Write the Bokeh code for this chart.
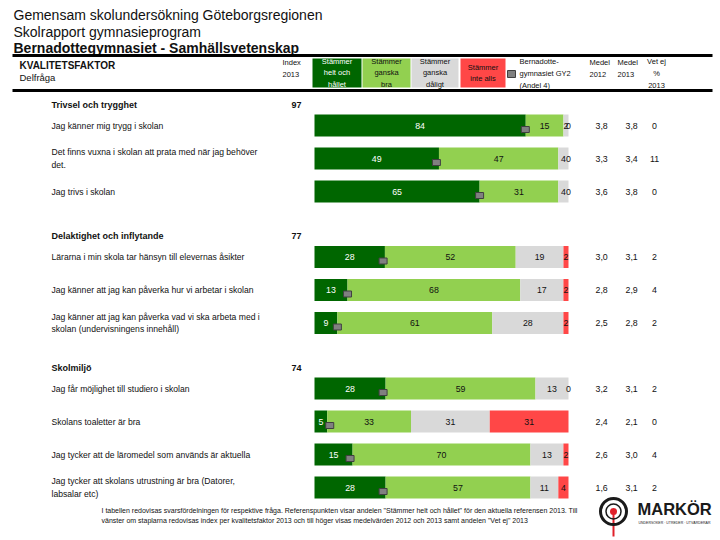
from bokeh.plotting import figure
from bokeh.models import Range1d, ColumnDataSource
from bokeh.core.properties import value
from bokeh.embed import file_html
from bokeh.resources import INLINE

FONT = value("Liberation Sans")

# ---------------- data ----------------
title_lines = ["Gemensam skolundersökning Göteborgsregionen", "Skolrapport gymnasieprogram"]
subtitle = "Bernadottegymnasiet - Samhällsvetenskap"

groups = ["Trivsel och trygghet", "Delaktighet och inflytande", "Skolmiljö"]
group_index = [97, 77, 74]

questions = [
    "Jag känner mig trygg i skolan",
    "Det finns vuxna i skolan att prata med när jag behöver\ndet.",
    "Jag trivs i skolan",
    "Lärarna i min skola tar hänsyn till elevernas åsikter",
    "Jag känner att jag kan påverka hur vi arbetar i skolan",
    "Jag känner att jag kan påverka vad vi ska arbeta med i\nskolan (undervisningens innehåll)",
    "Jag får möjlighet till studiero i skolan",
    "Skolans toaletter är bra",
    "Jag tycker att de läromedel som används är aktuella",
    "Jag tycker att skolans utrustning är bra (Datorer,\nlabsalar etc)",
]
question_group = [0, 0, 0, 1, 1, 1, 2, 2, 2, 2]

helt = [84, 49, 65, 28, 13, 9, 28, 5, 15, 28]
ganska_bra = [15, 47, 31, 52, 68, 61, 59, 33, 70, 57]
ganska_daligt = [2, 4, 4, 19, 17, 28, 13, 31, 13, 11]
inte_alls = [0, 0, 0, 2, 2, 2, 0, 31, 2, 4]
reference = [83, 48, 65, 27, 13, 9, 27, 6, 14, 27]

medel_2012 = [3.8, 3.3, 3.6, 3.0, 2.8, 2.5, 3.2, 2.4, 2.6, 1.6]
medel_2013 = [3.8, 3.4, 3.8, 3.1, 2.9, 2.8, 3.1, 2.1, 3.0, 3.1]
vet_ej = [0, 11, 0, 2, 4, 2, 2, 0, 4, 2]

legend_labels = ["Stämmer\nhelt och\nhållet", "Stämmer\nganska\nbra",
                 "Stämmer\nganska\ndåligt", "Stämmer\ninte alls"]
ref_label = "Bernadotte-\ngymnasiet GY2\n(Andel 4)"
footnote = ("I tabellen redovisas svarsfördelningen för respektive fråga. Referenspunkten visar andelen "
            "\"Stämmer helt och hållet\" för den aktuella referensen 2013. Till\n"
            "vänster om staplarna redovisas index per kvalitetsfaktor 2013 och till höger visas "
            "medelvärden 2012 och 2013 samt andelen \"Vet ej\" 2013")

# ---------------- style ----------------
COLORS = ["#006600", "#92D050", "#D9D9D9", "#FF4747"]
TEXT_COLORS = ["white", "#111111", "#111111", "#111111"]
W, H = 720, 540
X0, SC = 314.0, 2.54  # pixel position of 0 %, pixels per %

p = figure(width=W, height=H, x_range=Range1d(0, W), y_range=Range1d(H, 0),
           x_axis_type=None, y_axis_type=None, output_backend="svg",
           toolbar_location=None, min_border=0, outline_line_color=None,
           background_fill_color="white", border_fill_color="white")
p.extra_x_ranges = {"pct": Range1d(-X0 / SC, (W - X0) / SC)}
p.grid.visible = False


def txt(x, y, text, size, bold=False, align="left", color="#111111", baseline="middle",
        lh=1.2, rng="default"):
    p.text(x=x, y=y, text=text, text_font=FONT, text_font_size=f"{size}px",
           text_font_style="bold" if bold else "normal", text_align=align,
           text_baseline=baseline, text_color=color, text_line_height=lh,
           x_range_name=rng)


# ---------------- header ----------------
txt([13], [14], [title_lines[0]], 14)
txt([13], [31], [title_lines[1]], 14)
txt([13], [47], [subtitle], 14, bold=True)
p.segment(x0=[12, 12], y0=[55, 90], x1=[712, 712], y1=[55, 90], line_color="black", line_width=3)

txt([19], [65], ["KVALITETSFAKTOR"], 10, bold=True)
txt([19], [77], ["Delfråga"], 9.5)
txt([282], [68], ["Index\n2013"], 7.5, lh=1.35)

box_edges = [(312, 361), (362, 410), (411, 458), (460, 505)]
p.quad(left=[b[0] for b in box_edges], right=[b[1] for b in box_edges],
       top=[58] * 4, bottom=[87] * 4, fill_color=COLORS, line_color=None)
txt([(a + b) / 2 for a, b in box_edges], [72.5] * 4, legend_labels, 7.5,
    align="center", color=TEXT_COLORS, lh=1.3)

p.quad(left=[507], right=[515], top=[70], bottom=[77], fill_color="#808080", line_color="#404040")
txt([519], [73], [ref_label], 7.5, lh=1.35)
txt([589], [68], ["Medel\n2012"], 7.5, lh=1.35)
txt([617], [68], ["Medel\n2013"], 7.5, lh=1.35)
txt([656], [73], ["Vet ej\n%\n2013"], 7.5, align="center", lh=1.35)

# ---------------- rows layout ----------------
header_y, row_y = [], []
y = 104.0
for g in range(len(groups)):
    header_y.append(y)
    k = 0
    for i, qg in enumerate(question_group):
        if qg == g:
            row_y.append(y + 21 + 33 * k)
            k += 1
    y = row_y[-1] + 44.5

txt([51] * len(groups), header_y, groups, 9, bold=True)
txt([296] * len(groups), header_y, [str(v) for v in group_index], 9, bold=True, align="center")
txt([51] * len(questions), row_y, questions, 8.6, lh=1.25)

# ---------------- stacked bars ----------------
seg = dict(left=[], right=[], y=[], color=[])
lab = dict(x=[], y=[], text=[], color=[])
for i in range(len(questions)):
    vals = [helt[i], ganska_bra[i], ganska_daligt[i], inte_alls[i]]
    tot = float(sum(vals))
    c = 0.0
    for j, v in enumerate(vals):
        w = v / tot * 100.0
        seg["left"].append(c)
        seg["right"].append(c + w)
        seg["y"].append(row_y[i])
        seg["color"].append(COLORS[j])
        lab["x"].append(c + w / 2)
        lab["y"].append(row_y[i])
        lab["text"].append(str(v))
        lab["color"].append(TEXT_COLORS[j])
        c += w

p.hbar(y="y", left="left", right="right", height=22, fill_color="color", line_color=None,
       source=ColumnDataSource(seg), x_range_name="pct")
p.text(x="x", y="y", text="text", text_color="color", source=ColumnDataSource(lab),
       text_font=FONT, text_font_size="8.8px", text_align="center", text_baseline="middle",
       x_range_name="pct")

# reference markers
p.rect(x=reference, y=[v + 4 for v in row_y], width=8, height=6,
       width_units="screen", height_units="screen",
       fill_color="#808080", line_color="#404040", line_width=1, x_range_name="pct")

# ---------------- right-hand columns ----------------
fmt = lambda v: f"{v:.1f}".replace(".", ",")
txt([595] * len(row_y), row_y, [fmt(v) for v in medel_2012], 8.8)
txt([625] * len(row_y), row_y, [fmt(v) for v in medel_2013], 8.8)
txt([654] * len(row_y), row_y, [str(v) for v in vet_ej], 8.8, align="center")

# ---------------- footnote ----------------
txt([101], [515], [footnote], 7, lh=1.3)

# ---------------- logo ----------------
p.segment(x0=[613], y0=[511], x1=[613], y1=[536], line_color="#E0202A", line_width=2)
p.scatter(x=[613], y=[511], size=26, marker="circle", fill_color=None,
          line_color="#1a1a1a", line_width=3)
p.scatter(x=[613], y=[511], size=15, marker="circle", fill_color=None,
          line_color="#1a1a1a", line_width=1.5)
p.scatter(x=[613], y=[511], size=7, marker="circle", fill_color="#E0202A", line_color=None)
txt([637], [508], ["MARKÖR"], 16.5, bold=True, color="#1a1a1a")
txt([638], [522], ["UNDERSÖKER · UTREDER · UTVÄRDERAR"], 3.5, color="#1a1a1a")

open("out.html", "w").write(file_html(p, INLINE))
